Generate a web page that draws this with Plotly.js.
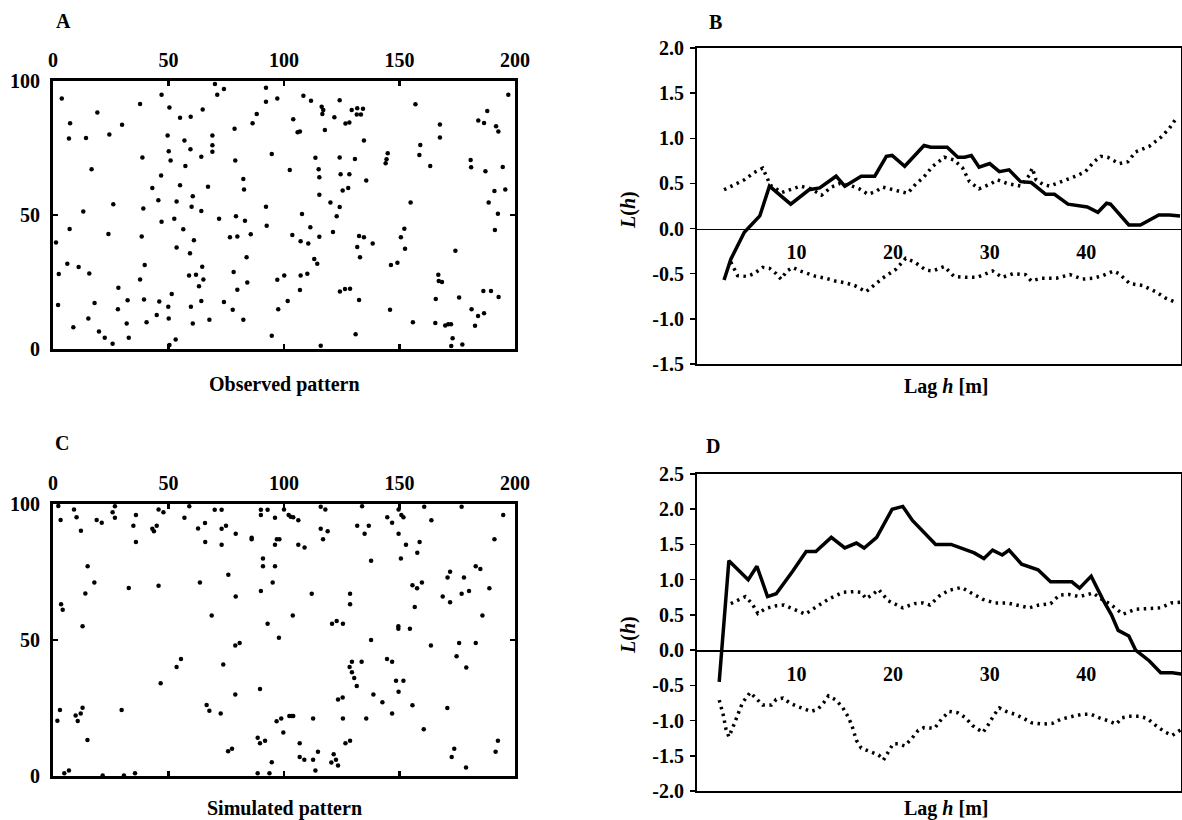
<!DOCTYPE html>
<html>
<head>
<meta charset="utf-8">
<script src="https://cdn.plot.ly/plotly-3.0.1.min.js"></script>
<style>html,body{margin:0;padding:0;background:#fff;}#chart{width:1182px;height:820px;}</style>
</head>
<body>
<div id="chart"></div>
<script>
// ---------- Panel A: observed point pattern (m) ----------
const obsX = [3.8,37.7,47.0,50.4,70.1,71.1,74.0,92.2,92.2,97.1,19.2,7.4,29.9,55.0,59.6,64.8,88.2,86.4,78.6,6.9,
14.3,24.4,49.6,56.9,69.0,69.0,69.0,50.1,59.5,50.9,64.2,38.7,57.3,78.9,94.7,16.7,46.8,55.0,43.0,67.1,
82.4,82.7,60.5,45.6,53.5,26.1,60.0,64.2,39.1,13.1,92.2,71.9,79.2,83.1,52.5,47.0,56.4,92.5,7.2,24.0,
38.4,76.6,79.8,85.6,61.0,53.5,1.3,59.3,83.8,6.2,11.1,39.7,64.6,2.5,15.7,58.9,61.9,78.2,65.1,37.7,
63.2,28.3,79.8,84.1,97.1,51.4,18.0,32.3,39.4,46.0,59.7,64.2,74.0,49.9,2.2,28.1,77.8,97.5,44.9,15.3,
31.9,40.5,50.1,60.5,67.7,82.4,8.8,19.9,22.4,25.8,32.8,53.1,50.4,94.7,
108.4,111.7,116.3,117.0,116.6,124.1,129.3,131.7,134.2,131.5,133.3,121.8,104.0,105.9,106.9,117.7,126.6,128.3,134.6,156.9,
167.5,167.5,159.0,158.6,163.3,184.1,186.6,188.0,191.8,192.8,197.1,180.8,181.0,187.2,194.7,144.9,144.4,144.0,113.6,124.1,
130.7,102.5,115.0,115.3,124.5,128.3,135.6,125.4,127.8,115.3,120.1,124.1,122.8,107.8,191.1,195.8,188.6,192.6,191.3,154.8,
111.4,103.6,107.2,110.5,115.3,121.2,132.5,134.6,138.4,131.7,132.9,152.1,150.6,152.4,174.2,113.1,114.4,146.3,149.1,100.1,
107.2,110.1,166.8,167.0,168.4,106.9,124.2,126.4,128.6,132.5,101.6,145.9,165.7,175.8,186.3,189.6,192.9,181.2,184.0,186.6,
182.7,155.8,165.5,169.8,171.1,172.3,173.0,172.4,177.2,131.0,115.9];
const obsY = [93.5,91.4,94.9,90.1,98.9,94.9,97.0,97.5,92.3,93.5,88.2,84.2,83.7,86.3,86.7,89.4,87.7,84.2,82.2,78.5,
78.7,80.0,79.7,77.8,79.7,76.0,73.6,73.8,74.5,70.3,71.7,71.5,68.3,70.3,72.8,67.1,64.7,61.1,60.1,60.5,
63.4,59.5,57.0,55.5,55.0,54.0,53.1,51.5,52.4,51.3,53.1,48.6,49.5,47.9,48.6,47.5,44.7,46.0,44.8,42.9,
42.0,41.7,42.0,42.8,40.6,37.9,39.7,35.7,34.2,31.8,30.6,31.3,30.7,28.0,28.2,27.4,27.7,28.7,25.9,25.9,
23.4,22.9,22.1,24.8,25.8,20.5,17.2,18.2,18.5,17.7,15.8,17.9,17.5,15.8,16.4,14.8,14.6,14.8,12.7,11.4,
9.5,10.0,11.4,9.5,10.9,10.9,8.1,6.5,4.2,2.0,4.2,3.5,1.5,4.9,
94.5,92.6,90.4,89.2,87.7,92.8,89.2,89.8,89.6,87.5,87.5,86.5,85.7,80.9,81.2,81.7,84.1,84.5,77.8,91.3,
83.8,78.9,76.1,72.4,68.3,85.3,84.3,88.8,83.1,81.2,94.9,70.5,67.8,66.3,67.9,73.0,70.8,69.3,71.4,71.5,
70.9,66.8,67.1,64.1,65.2,65.2,62.9,59.1,60.1,57.6,54.7,53.0,49.5,50.4,59.0,59.5,54.7,50.5,44.4,54.7,
45.4,42.5,40.2,39.4,41.9,43.7,42.2,41.7,39.4,38.1,34.2,44.9,41.7,37.4,36.7,33.6,31.8,31.3,32.2,27.4,
27.4,28.1,27.7,25.4,25.0,22.0,21.5,22.4,22.5,18.3,17.9,14.6,18.7,19.2,21.6,21.6,19.4,14.8,12.3,13.3,
8.7,10.0,9.7,8.8,9.2,9.2,4.0,1.1,1.7,5.5,1.2];

// ---------- Panel C: simulated point pattern (m) ----------
const simX = [2.3,3.3,9.1,10.2,12.1,18.9,21.1,25.8,26.8,26.8,34.8,35.9,35.9,43.0,43.7,44.9,45.7,47.8,56.9,59.0,
62.8,65.9,65.8,70.0,73.0,73.0,73.0,74.9,79.1,86.0,86.0,90.0,90.0,92.9,96.1,96.9,98.0,96.1,15.0,17.9,
14.0,3.5,4.2,32.8,45.7,63.6,75.9,79.1,90.9,90.9,96.1,95.1,90.0,68.7,12.8,92.9,97.8,78.9,80.8,73.7,
55.4,53.5,46.6,89.6,78.9,3.0,1.9,9.8,10.7,12.0,12.8,29.7,66.5,67.7,72.6,96.8,14.9,75.8,77.5,88.6,
89.6,91.8,94.7,4.9,6.9,21.5,30.7,35.5,88.6,93.7,
100.0,102.0,102.9,104.0,106.2,115.9,117.9,133.8,144.7,146.8,149.6,150.8,151.7,160.7,163.8,176.9,194.9,115.9,118.9,116.9,
131.7,134.9,136.7,149.6,152.8,158.7,157.7,106.2,108.9,191.1,137.7,150.6,155.6,157.6,159.7,156.6,112.0,128.6,128.6,103.8,
120.8,122.8,125.5,149.5,149.5,154.5,137.7,163.6,168.7,170.8,171.9,171.9,177.9,176.9,180.1,183.0,185.0,188.9,185.9,175.8,
183.0,174.7,178.9,129.4,133.6,128.4,129.4,130.4,131.5,144.6,146.8,148.5,151.7,149.6,138.7,142.6,146.8,155.6,170.7,123.4,
125.4,125.5,135.6,112.6,98.8,102.3,103.3,104.0,99.7,160.5,106.8,106.8,108.8,112.6,114.7,113.6,120.5,121.5,122.5,123.4,
126.6,128.6,172.6,173.7,178.8,191.6,192.6];
const simY = [99.3,94.1,98.0,95.1,90.2,94.1,93.1,97.0,99.2,94.9,92.0,96.0,86.0,90.9,90.0,92.0,98.0,97.0,94.9,99.2,
91.0,86.0,93.0,97.9,97.9,90.9,85.0,92.0,89.1,87.6,87.0,97.9,96.0,97.9,94.9,87.0,87.0,85.0,77.1,71.1,
67.1,63.1,61.1,69.1,69.9,71.1,74.0,66.0,80.0,77.1,77.1,71.1,68.0,59.0,55.1,56.0,50.8,48.0,48.9,41.0,
43.0,40.1,34.1,32.0,30.0,24.3,20.3,22.2,20.2,23.0,25.1,24.3,26.1,24.0,23.0,20.1,13.2,9.1,10.0,14.1,
12.0,13.0,5.1,1.0,2.0,0.2,0.2,1.0,1.0,1.0,
98.0,96.0,95.3,95.1,94.0,99.0,98.0,99.2,95.1,93.1,98.0,96.0,95.1,99.0,94.0,99.0,96.0,90.9,90.0,87.0,
92.0,89.1,92.0,89.1,85.0,86.0,82.1,85.0,84.0,87.0,79.1,80.0,70.1,69.0,71.1,62.1,67.0,67.0,63.1,59.0,
56.0,57.0,56.0,55.1,54.1,54.1,50.0,48.0,66.0,73.0,75.1,63.9,73.0,67.0,68.0,77.1,76.1,69.0,59.0,48.9,
48.9,44.0,39.9,42.0,42.0,40.1,38.1,36.0,33.1,43.0,42.0,35.0,35.0,31.0,30.0,27.1,23.0,26.0,25.0,28.1,
28.9,21.1,21.1,21.1,21.1,22.1,22.1,22.1,16.0,17.2,12.0,7.0,6.0,6.0,8.9,2.0,5.0,8.0,6.0,3.9,
12.0,13.0,7.0,10.0,3.1,8.9,13.0];

// ---------- Panel B: L(h) of observed pattern with envelopes ----------
const bLag = [2.5,3.2,4.6,6.2,7.2,9.4,11.3,12.4,14.1,15.0,16.7,18.1,19.3,19.9,21.2,23.2,23.9,25.6,26.7,27.4,
28.1,28.9,30.0,31.0,32.0,33.2,34.3,35.8,36.7,38.1,40.1,41.2,42.1,42.5,44.4,45.6,47.5,48.6,49.7];
const bL = [-0.57,-0.34,-0.04,0.14,0.47,0.27,0.43,0.45,0.58,0.47,0.58,0.58,0.80,0.81,0.69,0.92,0.90,0.90,0.79,0.79,
0.81,0.68,0.72,0.63,0.65,0.52,0.51,0.38,0.38,0.27,0.24,0.18,0.28,0.27,0.04,0.04,0.15,0.15,0.14];
const bUpLag = [2.5,3.5,4.6,5.6,6.5,7.3,8.5,9.6,10.4,11.5,12.6,13.6,14.5,15.5,16.5,17.4,18.2,18.9,20.3,21.5,
22.4,23.1,24.1,25.3,26.3,27.2,27.9,28.9,30.0,30.8,31.8,33.2,34.1,34.4,34.8,35.5,36.2,37.5,38.9,39.9,
40.8,41.5,42.2,43.4,44.3,45.1,46.5,47.7,48.6,49.3];
const bUp = [0.43,0.48,0.54,0.62,0.67,0.48,0.40,0.44,0.47,0.44,0.37,0.46,0.50,0.48,0.44,0.38,0.41,0.46,0.42,0.39,
0.50,0.56,0.69,0.79,0.76,0.67,0.52,0.44,0.49,0.54,0.50,0.47,0.59,0.67,0.54,0.49,0.47,0.52,0.58,0.63,
0.74,0.80,0.79,0.72,0.74,0.85,0.91,1.01,1.11,1.22];
const bLoLag = [3.2,3.9,4.8,5.6,6.5,7.2,7.9,8.4,9.0,9.6,10.4,11.2,12.0,13.0,14.0,15.0,16.0,17.2,18.0,18.9,
20.3,21.3,22.2,23.4,24.1,25.3,26.3,27.5,28.7,30.3,31.3,32.4,33.7,34.3,35.3,36.9,38.3,39.6,40.7,41.7,
42.8,43.4,44.5,45.8,47.2,48.2,49.3];
const bLo = [-0.37,-0.52,-0.53,-0.50,-0.43,-0.44,-0.50,-0.56,-0.47,-0.43,-0.47,-0.50,-0.53,-0.55,-0.58,-0.60,-0.63,-0.70,-0.63,-0.55,
-0.45,-0.33,-0.37,-0.46,-0.47,-0.42,-0.53,-0.54,-0.54,-0.47,-0.54,-0.50,-0.51,-0.58,-0.55,-0.55,-0.51,-0.56,-0.55,-0.52,
-0.47,-0.50,-0.61,-0.63,-0.70,-0.77,-0.82];

// ---------- Panel D: L(h) of simulated pattern with envelopes ----------
const dLag = [2.0,3.0,5.0,5.9,7.0,7.9,9.6,11.0,12.0,13.6,15.0,16.2,17.0,18.3,19.9,21.0,22.0,23.1,24.4,26.0,
27.2,28.4,29.4,30.3,31.3,32.0,33.3,35.0,36.3,38.5,39.3,40.5,41.7,42.6,43.3,44.4,45.1,46.5,47.7,48.9,49.9];
const dL = [-0.45,1.27,1.00,1.19,0.76,0.80,1.12,1.40,1.40,1.60,1.45,1.52,1.45,1.60,2.00,2.04,1.84,1.68,1.50,1.50,
1.44,1.38,1.30,1.42,1.35,1.42,1.22,1.14,0.97,0.97,0.88,1.05,0.72,0.50,0.28,0.20,0.00,-0.15,-0.32,-0.32,-0.34];
const dUpLag = [3.2,4.7,5.4,6.0,6.8,7.9,8.7,9.6,10.9,12.0,13.4,14.8,15.9,16.7,17.2,17.8,18.5,19.5,20.3,21.0,
22.2,23.1,23.8,24.8,25.8,27.1,28.1,29.3,30.5,31.8,33.1,34.1,35.1,36.3,37.2,38.2,39.3,40.7,41.5,42.4,
43.8,45.1,46.5,47.7,48.8,49.9];
const dUp = [0.66,0.76,0.66,0.52,0.59,0.63,0.64,0.59,0.51,0.61,0.73,0.82,0.83,0.82,0.73,0.78,0.86,0.70,0.64,0.60,
0.66,0.67,0.64,0.77,0.85,0.89,0.81,0.72,0.67,0.67,0.63,0.60,0.64,0.66,0.78,0.79,0.76,0.81,0.73,0.66,
0.51,0.58,0.59,0.60,0.67,0.68];
const dLoLag = [2.0,2.4,2.7,3.0,3.4,3.9,4.4,5.2,5.8,6.5,7.4,7.9,8.6,9.3,10.1,10.8,11.5,12.2,12.8,13.3,
14.1,14.8,15.4,15.8,16.2,16.7,17.6,18.5,19.0,19.5,20.0,20.5,21.2,21.9,22.6,23.2,24.3,25.0,25.8,26.7,
27.5,28.2,29.3,29.8,30.5,31.0,31.7,32.6,33.4,34.3,35.5,36.5,37.4,38.6,39.6,40.5,41.3,42.4,43.1,43.7,
44.4,45.5,46.3,47.2,48.1,48.9,49.9];
const dLo = [-0.71,-0.91,-1.12,-1.23,-1.10,-0.94,-0.75,-0.60,-0.68,-0.78,-0.78,-0.70,-0.68,-0.75,-0.80,-0.84,-0.87,-0.84,-0.75,-0.65,
-0.71,-0.82,-0.96,-1.10,-1.28,-1.39,-1.44,-1.49,-1.56,-1.44,-1.33,-1.33,-1.36,-1.26,-1.14,-1.10,-1.11,-0.98,-0.87,-0.89,
-0.96,-1.07,-1.17,-1.07,-0.91,-0.82,-0.87,-0.91,-0.96,-1.03,-1.05,-1.04,-0.98,-0.94,-0.91,-0.91,-0.96,-1.01,-1.05,-0.96,
-0.94,-0.94,-0.97,-1.07,-1.16,-1.21,-1.12];

// ---------- tick labels ----------
const mapXTicks = [0,50,100,150,200];
const mapYTicks = [0,50,100];
const lagTicks = [10,20,30,40];
const bYTicks = [-1.5,-1.0,-0.5,0.0,0.5,1.0,1.5,2.0];
const bYText = ['-1.5','-1.0','-0.5','0.0','0.5','1.0','1.5','2.0'];
const dYTicks = [-2.0,-1.5,-1.0,-0.5,0.0,0.5,1.0,1.5,2.0,2.5];
const dYText = ['-2.0','-1.5','-1.0','-0.5','0.0','0.5','1.0','1.5','2.0','2.5'];

// ---------- layout helpers (pixel -> paper) ----------
const W = 1182, H = 820;
const fx = p => p / W;
const fy = p => 1 - p / H;
const FONT = {family: '"Times New Roman", "Liberation Serif", "DejaVu Serif", serif', size: 20, color: '#000', weight: 700};

const mapAxis = (extra) => Object.assign({
  showline: true, linewidth: 3, linecolor: '#000', mirror: 'ticks',
  ticks: 'inside', ticklen: 5, tickwidth: 2.5, tickcolor: '#000',
  showgrid: false, zeroline: false, tickfont: FONT, fixedrange: true
}, extra);

const lagBox = (extra) => Object.assign({
  showline: true, linewidth: 2, linecolor: '#000', mirror: true,
  ticks: '', showticklabels: false, showgrid: false, zeroline: false,
  range: [-0.3, 49.8], fixedrange: true
}, extra);

const lAxis = (extra) => Object.assign({
  showline: true, linewidth: 2, linecolor: '#000', mirror: true,
  ticks: 'outside', ticklen: 5, tickwidth: 1.5, tickcolor: '#000',
  showgrid: false, zeroline: false, tickfont: FONT, tickmode: 'array',
  ticklabelstandoff: 2, fixedrange: true
}, extra);

const bDom = [fy(364), fy(48)], bRange = [-1.5, 2.0];
const dDom = [fy(791), fy(474)], dRange = [-2.0, 2.5];
const zeroPos = (dom, r) => dom[0] + (0 - r[0]) / (r[1] - r[0]) * (dom[1] - dom[0]);

const zeroAxis = (over, dom, r) => ({
  overlaying: over, anchor: 'free', position: zeroPos(dom, r), side: 'bottom',
  range: [-0.3, 49.8], showline: true, linewidth: 1.5, linecolor: '#000',
  ticks: '', tickmode: 'array', tickvals: lagTicks, tickfont: FONT,
  ticklabelstandoff: 5, showgrid: false, zeroline: false, fixedrange: true
});

const solid = {color: '#000', width: 3.5};
const dotted = {color: '#000', width: 3.5, dash: '2.5px,4.5px'};

const data = [
  {x: obsX, y: obsY, xaxis: 'x', yaxis: 'y', type: 'scatter', mode: 'markers',
   marker: {size: 4.5, color: '#000'}, cliponaxis: false},
  {x: simX, y: simY, xaxis: 'x3', yaxis: 'y3', type: 'scatter', mode: 'markers',
   marker: {size: 4.5, color: '#000'}, cliponaxis: false},
  {x: bUpLag, y: bUp, xaxis: 'x2', yaxis: 'y2', type: 'scatter', mode: 'lines', line: dotted},
  {x: bLoLag, y: bLo, xaxis: 'x2', yaxis: 'y2', type: 'scatter', mode: 'lines', line: dotted},
  {x: bLag, y: bL, xaxis: 'x2', yaxis: 'y2', type: 'scatter', mode: 'lines', line: solid},
  {x: dUpLag, y: dUp, xaxis: 'x4', yaxis: 'y4', type: 'scatter', mode: 'lines', line: dotted},
  {x: dLoLag, y: dLo, xaxis: 'x4', yaxis: 'y4', type: 'scatter', mode: 'lines', line: dotted},
  {x: dLag, y: dL, xaxis: 'x4', yaxis: 'y4', type: 'scatter', mode: 'lines', line: solid},
  {x: [], y: [], xaxis: 'x5', yaxis: 'y2', type: 'scatter', mode: 'lines'},
  {x: [], y: [], xaxis: 'x6', yaxis: 'y4', type: 'scatter', mode: 'lines'}
];

const ann = (text, x, y, extra) => Object.assign({
  text: text, xref: 'paper', yref: 'paper', x: fx(x), y: fy(y),
  xanchor: 'center', yanchor: 'middle', showarrow: false, font: FONT
}, extra || {});

const layout = {
  width: W, height: H,
  margin: {l: 0, r: 0, t: 0, b: 0, pad: 0},
  paper_bgcolor: '#fff', plot_bgcolor: '#fff',
  showlegend: false,
  font: FONT,
  xaxis: mapAxis({domain: [fx(53), fx(515)], range: [0, 200], side: 'top', anchor: 'y',
                  tickmode: 'array', tickvals: mapXTicks, ticklabelstandoff: 3}),
  yaxis: mapAxis({domain: [fy(349), fy(81)], range: [0, 100], anchor: 'x',
                  tickmode: 'array', tickvals: mapYTicks, ticklabelstandoff: 6}),
  xaxis3: mapAxis({domain: [fx(53), fx(515)], range: [0, 200], side: 'top', anchor: 'y3',
                   tickmode: 'array', tickvals: mapXTicks, ticklabelstandoff: 3}),
  yaxis3: mapAxis({domain: [fy(776), fy(504)], range: [0, 100], anchor: 'x3',
                   tickmode: 'array', tickvals: mapYTicks, ticklabelstandoff: 6}),
  xaxis2: lagBox({domain: [fx(697), fx(1181)], anchor: 'y2'}),
  yaxis2: lAxis({domain: bDom, range: bRange, anchor: 'x2', tickvals: bYTicks, ticktext: bYText}),
  xaxis4: lagBox({domain: [fx(697), fx(1181)], anchor: 'y4'}),
  yaxis4: lAxis({domain: dDom, range: dRange, anchor: 'x4', tickvals: dYTicks, ticktext: dYText}),
  xaxis5: zeroAxis('x2', bDom, bRange),
  xaxis6: zeroAxis('x4', dDom, dRange),
  annotations: [
    ann('A', 63, 21), ann('B', 715, 22), ann('C', 62, 443), ann('D', 713, 446),
    ann('Observed pattern', 284, 384),
    ann('Simulated pattern', 284, 808),
    ann('Lag <i>h</i> [m]', 946, 386),
    ann('Lag <i>h</i> [m]', 946, 808),
    ann('<i>L</i>(<i>h</i>)', 628, 210, {textangle: -90}),
    ann('<i>L</i>(<i>h</i>)', 628, 635, {textangle: -90})
  ]
};

Plotly.newPlot('chart', data, layout, {staticPlot: true, displayModeBar: false});
</script>
</body>
</html>
